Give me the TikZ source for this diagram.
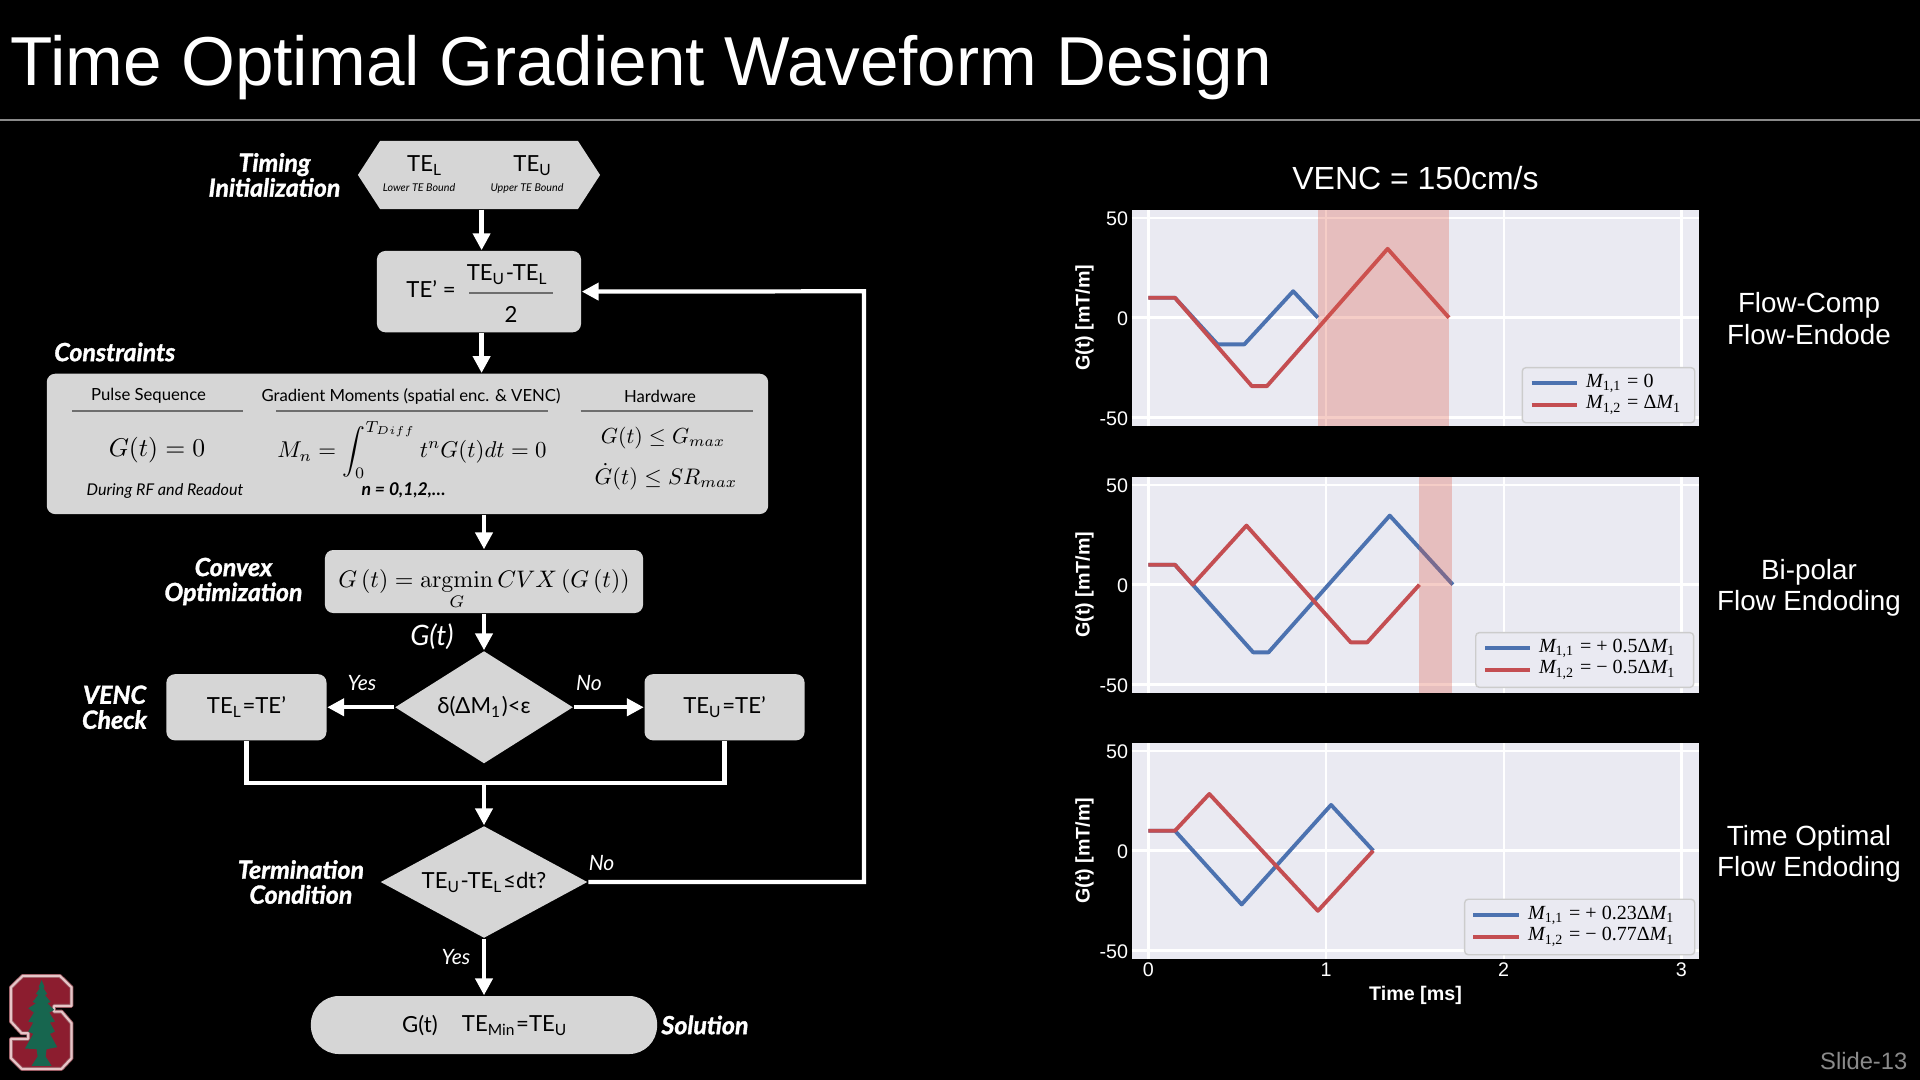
\documentclass[tikz,border=0pt]{standalone}
\usepackage{amsmath}
\usepackage[no-math]{fontspec}
\usepackage{tikz}
\usepackage{xcolor}
\usetikzlibrary{arrows.meta,positioning,shapes.geometric,shapes.symbols}
\setmainfont{Lato}
\newfontfamily\stepfont[BoldItalicFeatures={FakeBold=1.4}]{Lato}
\newfontfamily\helvfont{Liberation Sans}
\newfontfamily\legendfont{Liberation Serif}
\definecolor{BoxGray}{HTML}{D6D6D6}
\definecolor{RuleGray}{HTML}{6E6E6E}
\definecolor{SlideGray}{HTML}{8A8A8A}
\definecolor{PlotBack}{HTML}{EAEAF2}
\definecolor{PlotBlue}{HTML}{4C72B0}
\definecolor{PlotRed}{HTML}{C44E52}
\definecolor{BandRed}{HTML}{E05B48}
\definecolor{LegendEdge}{HTML}{CCCCCC}
\definecolor{LogoRed}{HTML}{8C1D2F}
\definecolor{LogoPink}{HTML}{E6C6C8}
\definecolor{LogoEdge}{HTML}{9A5A62}
\definecolor{LogoGreen}{HTML}{17664F}
\newcommand{\tesub}[1]{TE\textsubscript{#1}}
\newcommand{\legM}[1]{{\itshape M}\textsubscript{#1}}
\tikzset{
  flowbox/.style={rounded corners=2.4pt, fill=BoxGray, text=black, align=center, inner sep=0pt},
  hexbox/.style={signal, signal to=east and west, signal pointer angle=114, fill=BoxGray, inner sep=0pt, minimum width=2.42cm, minimum height=.68cm},
  decision/.style={diamond, fill=BoxGray, text=black, inner sep=0pt, font=\fontsize{6.3}{7.5}\selectfont},
  steplabel/.style={text=white, align=center, inner sep=0pt, font=\fontsize{7.1}{7.1}\stepfont\selectfont\bfseries\itshape},
  answer/.style={text=white, inner sep=0pt, font=\fontsize{6}{7.1}\selectfont\itshape},
  boxtext/.style={text=black, inner sep=0pt, font=\fontsize{6.3}{7.5}\selectfont},
  headtext/.style={text=black, inner sep=0pt, font=\fontsize{4.75}{6}\selectfont},
  notetext/.style={text=black, inner sep=0pt, font=\fontsize{4.6}{5.5}\selectfont\itshape},
  mathtext/.style={text=black, inner sep=0pt, scale=.73},
  flow/.style={-{Triangle[length=4.8pt,width=4.8pt]}, line width=1.2pt, draw=white},
  flowline/.style={line width=1.2pt, draw=white},
  panel/.style={shift={(1148.3,#1)}, x=1.777cm, y=.0199cm},
  gridline/.style={draw=white, line width=.75pt},
  bluecurve/.style={draw=PlotBlue, line width=1.1pt, line join=round},
  redcurve/.style={draw=PlotRed, line width=1.1pt, line join=round},
  shadeband/.style={fill=BandRed, fill opacity=.3},
  legendbox/.style={rounded corners=1pt, fill=PlotBack, draw=LegendEdge, line width=.4pt, inner sep=0pt},
  legendtext/.style={anchor=west, text=black, inner sep=0pt, font=\fontsize{5.7}{7}\legendfont\selectfont},
  ticktext/.style={text=white, inner sep=0pt, font=\fontsize{5.6}{7}\helvfont\selectfont},
  axistext/.style={text=white, inner sep=0pt, font=\fontsize{5.6}{7}\helvfont\selectfont\bfseries},
  sidetext/.style={text=white, align=center, inner sep=0pt, font=\fontsize{7.9}{8.9}\helvfont\selectfont}
}

\begin{document}
\begin{tikzpicture}[x=.01cm, y=-.01cm]
    \useasboundingbox (0,0) rectangle (1920,1080);
    \fill[black] (0,0) rectangle (1920,1080);

    \node[anchor=west, text=white, inner sep=0pt, font=\fontsize{19.7}{24}\helvfont\selectfont] (title) at (10,68) {Time Optimal Gradient Waveform Design};
    \coordinate (ruleleft) at (0,120);
    \coordinate (ruleright) at (1920,120);
    \draw[draw=SlideGray, line width=.4pt] (ruleleft) -- (ruleright);

    \node[hexbox] (teinit) at (479,175) {};
    \node[flowbox, minimum width=2.04cm, minimum height=.813cm, below=.405cm of teinit] (tebox) {};
    \node[flowbox, minimum width=7.21cm, minimum height=1.403cm, below=.4cm of tebox, xshift=-.715cm] (constraints) {};
    \node[flowbox, minimum width=3.18cm, minimum height=.63cm, below=.345cm of constraints, xshift=.765cm] (convex) {};
    \node[decision, aspect=1.56, minimum width=1.78cm, minimum height=1.125cm, below=.365cm of convex] (decideM) {δ(ΔM\textsubscript{1})<ε};
    \node[flowbox, boxtext, minimum width=1.6cm, minimum height=.661cm, left=.67cm of decideM] (lowerbox) {\tesub{L}=TE’};
    \node[flowbox, boxtext, minimum width=1.6cm, minimum height=.661cm, right=.7cm of decideM] (upperbox) {\tesub{U}=TE’};
    \coordinate[below=.19cm of decideM] (merge);
    \node[decision, aspect=1.82, minimum width=2.07cm, minimum height=1.12cm, below=.61cm of decideM] (decideT) {\tesub{U}-\tesub{L}≤dt?};
    \node[flowbox, rounded corners=8pt, minimum width=3.46cm, minimum height=.58cm, below=.565cm of decideT] (solution) {};
    \coordinate (loop) at (864,291.3);

    \draw[flow] ([xshift=.26mm]teinit.south) -- ([xshift=.26mm]tebox.north);
    \draw[flow] ([xshift=.26mm]tebox.south) -- ([xshift=.26mm]tebox.south |- constraints.north);
    \draw[flow] (convex.north |- constraints.south) -- (convex.north);
    \draw[flow] (convex) -- (decideM);
    \draw[flow] (decideM) -- (lowerbox);
    \draw[flow] (decideM) -- (upperbox);
    \draw[flowline] (lowerbox.south) |- (merge);
    \draw[flowline] (upperbox.south) |- (merge);
    \draw[flow] (merge) -- (decideT);
    \draw[flow] (decideT) -- (solution);
    \draw[flow] (decideT.east) -| (loop) -- (tebox.east);

    \node[steplabel, left=.16cm of teinit] (initlabel) {Timing\\Initialization};
    \node[steplabel, anchor=west] (conslabel) at (53.6,352) {Constraints};
    \node[steplabel, left=.21cm of convex] (convexlabel) {Convex\\Optimization};
    \node[steplabel, left=.18cm of lowerbox] (venclabel) {VENC\\Check};
    \node[steplabel, left=.15cm of decideT] (termlabel) {Termination\\Condition};
    \node[steplabel, right=.03cm of solution] (sollabel) {Solution};
    \node[answer] (yesM) at (362,683) {Yes};
    \node[answer] (noM) at (589,683) {No};
    \node[answer] (noT) at (601.6,863) {No};
    \node[answer] (yesT) at (456,957) {Yes};
    \node[answer, font=\fontsize{8}{9}\selectfont\itshape] (gout) at (432,637) {G(t)};

    \node[boxtext] (lowername) at (425,165.6) {\tesub{L}};
    \node[boxtext] (uppername) at (533,165.6) {\tesub{U}};
    \node[notetext, font=\fontsize{3.05}{4}\selectfont\itshape] (lowernote) at (419,188) {Lower TE Bound};
    \node[notetext, font=\fontsize{3.05}{4}\selectfont\itshape] (uppernote) at (527,188) {Upper TE Bound};
    \node[boxtext] (teprime) at (431,289) {TE’ =};
    \node[boxtext] (tenum) at (507.6,275) {\tesub{U}-\tesub{L}};
    \node[boxtext] (tetwo) at (511,314) {2};
    \coordinate (fracleft) at (469,293);
    \coordinate (fracright) at (553,293);
    \draw[draw=RuleGray, line width=.5pt] (fracleft) -- (fracright);

    \node[headtext] (pulsehead) at (148.5,396) {Pulse Sequence};
    \node[headtext] (momenthead) at (411,396) {Gradient Moments (spatial enc. \& VENC)};
    \node[headtext] (hardhead) at (660,396) {Hardware};
    \foreach \rulename/\xa/\xb in {pulse/72/243,moment/276/547.5,hard/580.6/752.5}{
        \coordinate (\rulename a) at (\xa,410.7);
        \coordinate (\rulename b) at (\xb,410.7);
        \draw[draw=RuleGray, line width=.5pt] (\rulename a) -- (\rulename b);
    }
    \node[mathtext] (pulseeq) at (157,450) {$G(t)=0$};
    \node[mathtext, scale=.65/.73] (momenteq) at (412,450) {$M_n=\displaystyle\int_0^{T_{Diff}}t^nG(t)dt=0$};
    \node[mathtext, scale=.62/.73] (hardeqa) at (663,438) {$G(t)\leq G_{max}$};
    \node[mathtext, scale=.64/.73] (hardeqb) at (666,477) {$\dot{G}(t)\leq SR_{max}$};
    \node[notetext] (pulsenote) at (165,490.7) {During RF and Readout};
    \node[notetext, font=\fontsize{5}{6}\selectfont\bfseries\itshape] (momentnote) at (403.6,490.7) {n = 0,1,2,…};
    \node[mathtext, scale=.68/.73] (convexeq) at (484,590) {$\displaystyle G\left(t\right)=\operatorname*{argmin}_{G}CVX\left(G\left(t\right)\right)$};
    \node[boxtext] (solG) at (420,1026) {G(t)};
    \node[boxtext] (solTE) at (515,1026) {\tesub{Min}=\tesub{U}};

    \node[text=white, inner sep=0pt, font=\fontsize{9.1}{10}\helvfont\selectfont] (venc) at (1415.5,178) {VENC = 150cm/s};

    \foreach \py/\pname in {317.7/top,584.7/mid,850.7/low}{
        \begin{scope}[panel=\py]
            \fill[PlotBack] (-.0923,-54.5) rectangle (3.099,54);
            \foreach \tx in {0,1,2,3}
                \draw[gridline] (\tx,-54.5) -- (\tx,54);
            \foreach \ty in {-50,0,50}{
                \draw[gridline] (-.0923,\ty) -- (3.099,\ty);
                \node[ticktext, anchor=east] (\pname tick\ty) at (-.11,\ty-.5) {\ty};
            }
            \node[axistext, rotate=90] (\pname axis) at (-.358,0) {G(t) [mT/m]};
        \end{scope}
    }

    \begin{scope}[panel=317.7]
        \draw[bluecurve] (0,10) -- (.15,10) -- (.39,-13.4) -- (.54,-13.4) -- (.815,13.3) -- (.954,0);
        \draw[redcurve] (0,10) -- (.15,10) -- (.583,-34.4) -- (.667,-34.4) -- (1.346,34.6) -- (1.691,0);
        \fill[shadeband] (.954,-54.5) rectangle (1.689,54);
    \end{scope}
    \begin{scope}[panel=584.7]
        \draw[bluecurve] (0,10) -- (.15,10) -- (.59,-34) -- (.676,-34) -- (1.358,34.7) -- (1.713,0);
        \draw[redcurve] (0,10) -- (.15,10) -- (.25,0) -- (.552,29.7) -- (1.139,-29) -- (1.231,-29) -- (1.525,0);
        \fill[shadeband] (1.525,-54.5) rectangle (1.707,54);
    \end{scope}
    \begin{scope}[panel=850.7]
        \draw[bluecurve] (0,10) -- (.15,10) -- (.525,-27) -- (1.028,23) -- (1.265,0);
        \draw[redcurve] (0,10) -- (.15,10) -- (.343,28.5) -- (.954,-30.2) -- (1.265,0);
    \end{scope}

    \node[legendbox, minimum width=1.723cm, minimum height=.55cm] (legendtop) at (1608.5,395.2) {};
    \draw[bluecurve] (1531.7,383.3) -- (1576.7,383.3);
    \draw[redcurve] (1531.7,405) -- (1576.7,405);
    \node[legendtext] (legendtopa) at (1585.5,383.3) {\legM{1,1} = 0};
    \node[legendtext] (legendtopb) at (1585.5,405) {\legM{1,2} = Δ{\itshape M}\textsubscript{1}};

    \node[legendbox, minimum width=2.178cm, minimum height=.546cm] (legendmid) at (1584.7,660) {};
    \draw[bluecurve] (1485,648.3) -- (1530,648.3);
    \draw[redcurve] (1485,670) -- (1530,670);
    \node[legendtext] (legendmida) at (1538.3,648.3) {\legM{1,1} = + 0.5Δ{\itshape M}\textsubscript{1}};
    \node[legendtext] (legendmidb) at (1538.3,670) {\legM{1,2} = − 0.5Δ{\itshape M}\textsubscript{1}};

    \node[legendbox, minimum width=2.299cm, minimum height=.554cm] (legendlow) at (1579.7,927) {};
    \draw[bluecurve] (1473,915.3) -- (1518.6,915.3);
    \draw[redcurve] (1473,937) -- (1518.6,937);
    \node[legendtext] (legendlowa) at (1527.4,915.3) {\legM{1,1} = + 0.23Δ{\itshape M}\textsubscript{1}};
    \node[legendtext] (legendlowb) at (1527.4,937) {\legM{1,2} = − 0.77Δ{\itshape M}\textsubscript{1}};

    \foreach \tx in {0,1,2,3}
        \node[ticktext] (xtick\tx) at (1148.3+177.7*\tx,969.3) {\tx};
    \node[axistext] (timeaxis) at (1415.5,995.3) {Time [ms]};

    \node[sidetext] (sidetop) at (1809,318.5) {Flow-Comp\\Flow-Endode};
    \node[sidetext] (sidemid) at (1809,587.8) {Bi-polar\\Flow Endoding};
    \node[sidetext] (sidelow) at (1809,853.5) {Time Optimal\\Flow Endoding};
    \node[anchor=east, text=SlideGray, inner sep=0pt, font=\fontsize{6.75}{8}\helvfont\selectfont] (slidenum) at (1908,1060.7) {Slide-13};

    \begin{scope}[shift={(0,960)}, x=.00333cm, y=-.00333cm]
        \draw[draw=LogoEdge, fill=LogoRed, line width=1.1pt, line join=round] (68,48) -- (180,48) -- (215,82) -- (215,138) -- (162,138) -- (162,155) -- (185,155) -- (215,190) -- (215,295) -- (185,327) -- (65,327) -- (33,295) -- (33,237) -- (85,237) -- (85,220) -- (65,220) -- (33,185) -- (33,82) -- cycle;
        \draw[draw=LogoPink, line width=.6pt, line join=round] (68,48) -- (180,48) -- (215,82) -- (215,138) -- (162,138) -- (162,155) -- (185,155) -- (215,190) -- (215,295) -- (185,327) -- (65,327) -- (33,295) -- (33,237) -- (85,237) -- (85,220) -- (65,220) -- (33,185) -- (33,82) -- cycle;
        \fill[LogoGreen] (125,60) -- (134,82) -- (130,84) -- (142,102) -- (135,105) -- (152,126) -- (142,130) -- (163,150) -- (148,158) -- (165,185) -- (150,188) -- (165,215) -- (150,222) -- (172,262) -- (140,268) -- (137,290) -- (155,318) -- (95,318) -- (113,290) -- (110,268) -- (75,266) -- (100,222) -- (85,215) -- (100,188) -- (85,185) -- (102,158) -- (85,145) -- (108,130) -- (98,126) -- (115,105) -- (108,102) -- (120,84) -- (116,82) -- cycle;
    \end{scope}
\end{tikzpicture}
\end{document}
